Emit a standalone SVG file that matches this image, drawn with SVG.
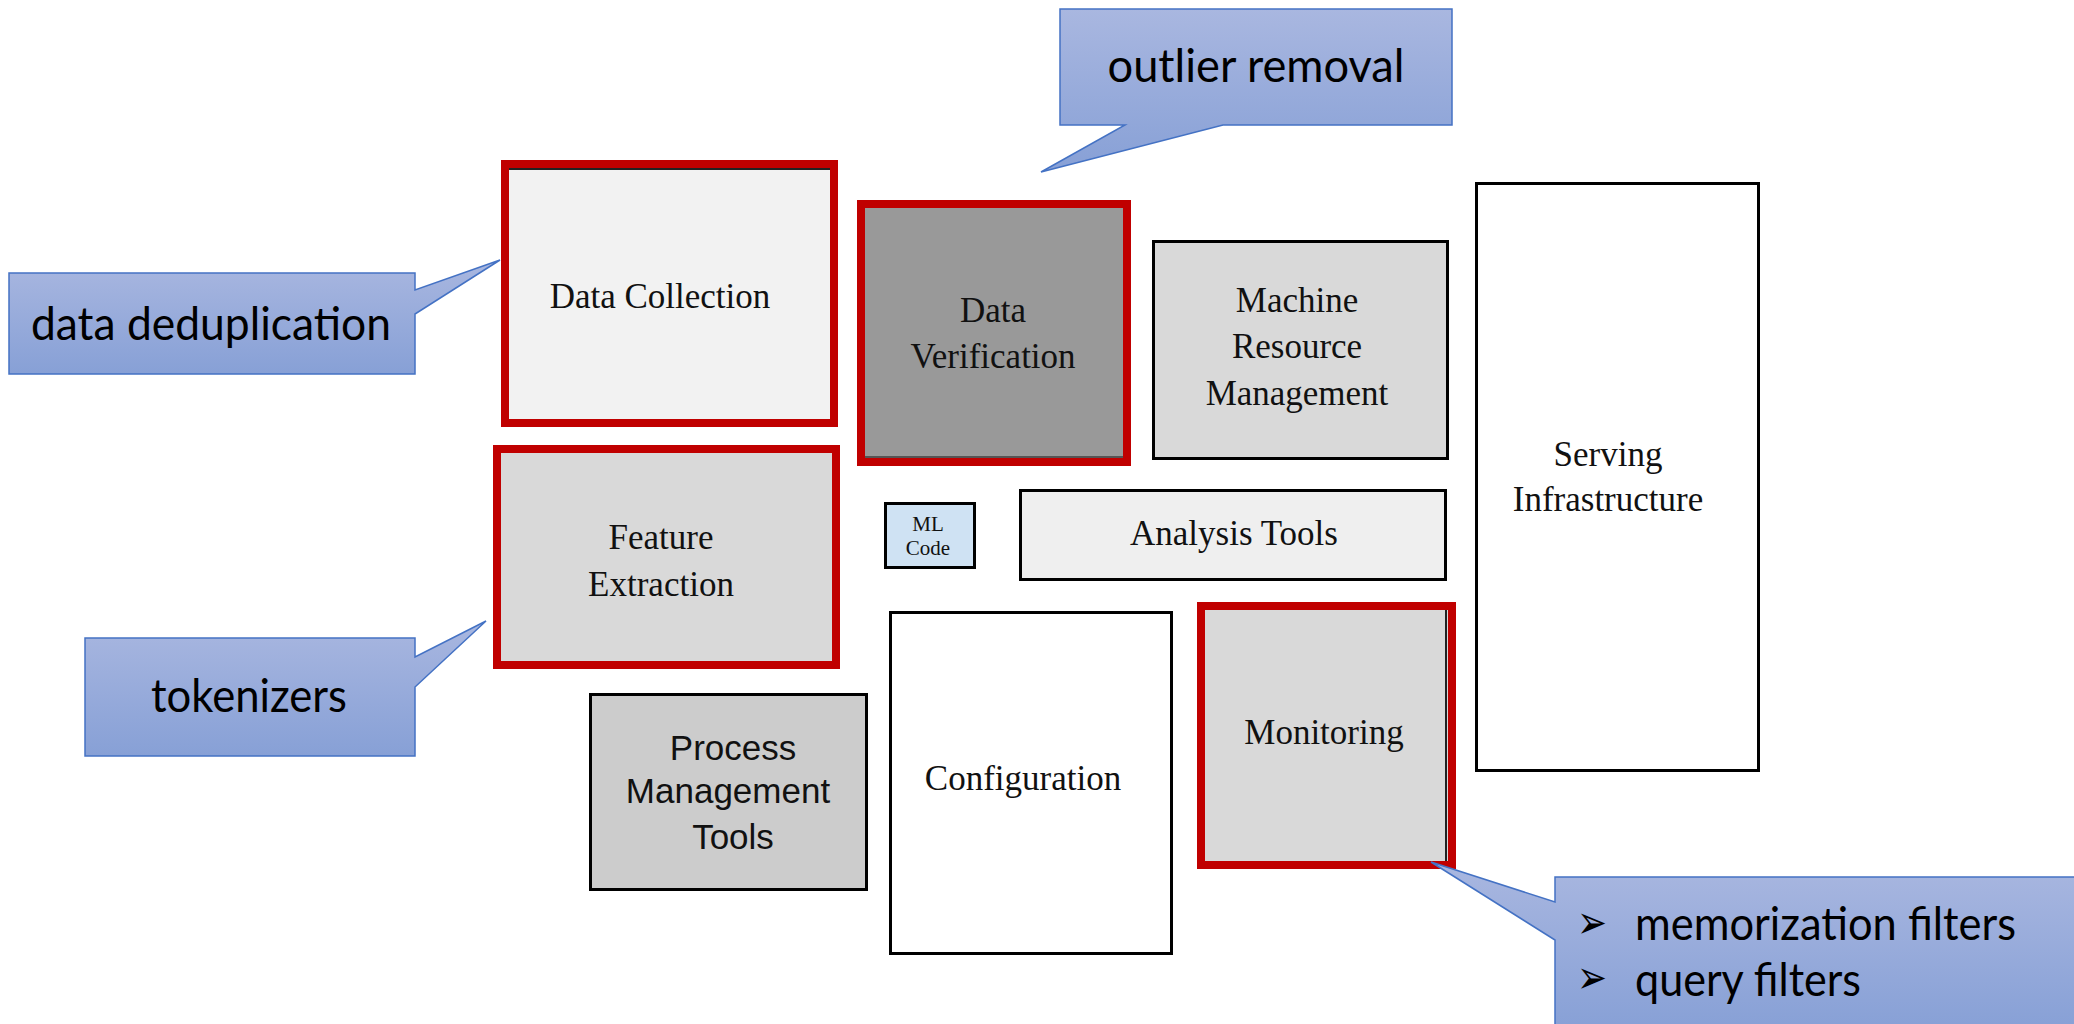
<svg xmlns="http://www.w3.org/2000/svg" width="2074" height="1024" viewBox="0 0 2074 1024">
  <defs>
    <linearGradient id="calloutFill" x1="0" y1="0" x2="0" y2="1">
      <stop offset="0" stop-color="#a9b7e0"/>
      <stop offset="1" stop-color="#87a0d6"/>
    </linearGradient>
    <style>
      .box { stroke: #000; stroke-width: 3; }
      .flag { fill: none; stroke: #c00000; stroke-width: 8; }
      .serif { font-family: "Liberation Serif", "Times New Roman", serif; font-size: 35px; fill: #111; text-anchor: middle; }
      .sans { font-family: "Liberation Sans", Arial, sans-serif; font-size: 35px; fill: #111; text-anchor: middle; }
      .callout { fill: url(#calloutFill); stroke: #4472c4; stroke-width: 1.5; }
      .note { font-family: Lato, "Open Sans", sans-serif; font-size: 46px; fill: #000; }
      .bullet { font-family: "DejaVu Sans", sans-serif; font-size: 46px; fill: #000; }
    </style>
  </defs>

  <rect width="2074" height="1024" fill="#ffffff"/>

  <!-- system components -->
  <g id="data-collection">
    <rect x="505" y="164" width="329" height="259" fill="#f2f2f2"/>
    <line x1="509" y1="169" x2="830" y2="169" stroke="#222" stroke-width="2"/>
    <rect class="flag" x="505" y="164" width="329" height="259"/>
    <text class="serif" x="660" y="308">Data Collection</text>
  </g>

  <g id="data-verification">
    <rect x="861" y="204" width="266" height="258" fill="#999999"/>
    <line x1="865" y1="457" x2="1123" y2="457" stroke="#555" stroke-width="2"/>
    <rect class="flag" x="861" y="204" width="266" height="258"/>
    <text class="serif" x="993" y="322">Data</text>
    <text class="serif" x="993" y="368">Verification</text>
  </g>

  <g id="machine-resource-management">
    <rect class="box" x="1153.5" y="241.5" width="294" height="217" fill="#d9d9d9"/>
    <text class="serif" x="1297" y="312">Machine</text>
    <text class="serif" x="1297" y="358">Resource</text>
    <text class="serif" x="1297" y="405">Management</text>
  </g>

  <g id="serving-infrastructure">
    <rect class="box" x="1476.5" y="183.5" width="282" height="587" fill="#ffffff"/>
    <text class="serif" x="1608" y="466">Serving</text>
    <text class="serif" x="1608" y="511">Infrastructure</text>
  </g>

  <g id="feature-extraction">
    <rect x="497" y="449" width="339" height="216" fill="#d9d9d9"/>
    <rect class="flag" x="497" y="449" width="339" height="216"/>
    <text class="serif" x="661" y="549">Feature</text>
    <text class="serif" x="661" y="596">Extraction</text>
  </g>

  <g id="ml-code">
    <rect class="box" x="885.5" y="503.5" width="89" height="64" fill="#cfe2f3"/>
    <text class="serif" x="928" y="531" style="font-size:21px">ML</text>
    <text class="serif" x="928" y="555" style="font-size:21px">Code</text>
  </g>

  <g id="analysis-tools">
    <rect class="box" x="1020.5" y="490.5" width="425" height="89" fill="#efefef"/>
    <text class="serif" x="1234" y="545">Analysis Tools</text>
  </g>

  <g id="process-management-tools">
    <rect class="box" x="590.5" y="694.5" width="276" height="195" fill="#cccccc"/>
    <text class="sans" x="733" y="760">Process</text>
    <text class="sans" x="728" y="803">Management</text>
    <text class="sans" x="733" y="849">Tools</text>
  </g>

  <g id="configuration">
    <rect class="box" x="890.5" y="612.5" width="281" height="341" fill="#ffffff"/>
    <text class="serif" x="1023" y="790">Configuration</text>
  </g>

  <g id="monitoring">
    <rect x="1201" y="606" width="251" height="259" fill="#d9d9d9"/>
    <line x1="1446" y1="610" x2="1446" y2="861" stroke="#222" stroke-width="2"/>
    <rect class="flag" x="1201" y="606" width="251" height="259"/>
    <text class="serif" x="1324" y="744">Monitoring</text>
  </g>

  <!-- callouts pointing at the flagged components -->
  <g id="connectors">
    <g id="callout-outlier">
      <path class="callout" d="M1060,9 H1452 V125 H1223 L1041,172 L1125,125 H1060 Z"/>
      <text class="note" x="1256" y="82" text-anchor="middle" textLength="297" lengthAdjust="spacingAndGlyphs">outlier removal</text>
    </g>
    <g id="callout-dedup">
      <path class="callout" d="M9,273 H415 V290 L500,260 L415,314 V374 H9 Z"/>
      <text class="note" x="211" y="340" text-anchor="middle" textLength="360" lengthAdjust="spacingAndGlyphs">data deduplication</text>
    </g>
    <g id="callout-tokenizers">
      <path class="callout" d="M85,638 H415 V657 L486,621 L415,687 V756 H85 Z"/>
      <text class="note" x="249" y="712" text-anchor="middle" textLength="196" lengthAdjust="spacingAndGlyphs">tokenizers</text>
    </g>
    <g id="callout-filters">
      <path class="callout" d="M1555,877 H2080 V1030 H1555 V940 L1431,862 L1555,902 Z"/>
      <text class="bullet" x="1577" y="938" textLength="30" lengthAdjust="spacingAndGlyphs">➢</text>
      <text class="note" x="1635" y="940" textLength="381" lengthAdjust="spacingAndGlyphs">memorization filters</text>
      <text class="bullet" x="1577" y="993" textLength="30" lengthAdjust="spacingAndGlyphs">➢</text>
      <text class="note" x="1635" y="996" textLength="226" lengthAdjust="spacingAndGlyphs">query filters</text>
    </g>
  </g>
</svg>
